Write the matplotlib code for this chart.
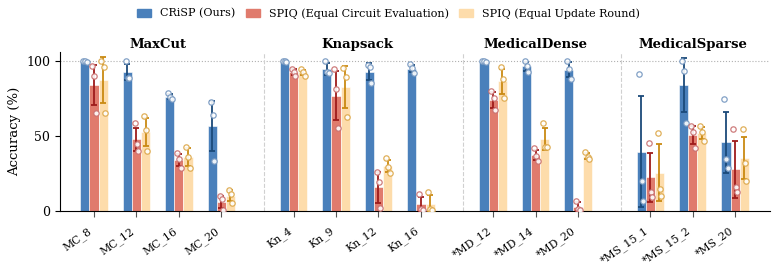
import matplotlib
matplotlib.use("Agg")
import matplotlib.pyplot as plt
import numpy as np
from matplotlib.patches import Patch

# Benchmark instances, grouped by problem family
groups = ["MaxCut", "Knapsack", "MedicalDense", "MedicalSparse"]
instances = [
    ["MC_8", "MC_12", "MC_16", "MC_20"],
    ["Kn_4", "Kn_9", "Kn_12", "Kn_16"],
    ["*MD_12", "*MD_14", "*MD_20"],
    ["*MS_15_1", "*MS_15_2", "*MS_20"],
]

# Per-seed accuracies (%), three runs per instance
crisp_runs = [
    [100, 100, 99.5], [100, 89, 89], [78.5, 76, 74.5], [72.4, 64, 33.3],
    [100, 100, 99.5], [100, 92.4, 91.8], [97.3, 96.2, 85.1], [97.8, 95.1, 91.8],
    [100, 100, 99.5], [100, 96.7, 92.4], [100, 94.4, 88],
    [91.1, 20.2, 6.9], [100, 93.5, 58.5], [74.4, 34.7, 28.4],
]
spiq_circuit_runs = [
    [97, 90, 65.5], [58.4, 44.7, 40.2], [38.5, 35, 29], [10, 7.8, 0.7],
    [94.7, 92.9, 90], [94.4, 81.1, 55.1], [26.2, 19.6, 1.8], [11.3, 1.1, 0.7],
    [80, 75.1, 67.3], [42, 37, 33.5], [6.9, 1.1, 0.7],
    [45.1, 12.9, 9.1], [56.7, 52.7, 42.2], [54.4, 16.2, 12.9],
]
spiq_round_runs = [
    [100, 96.2, 65.6], [63.3, 54, 40.2], [43, 36, 29], [14, 11.5, 5.5],
    [94.7, 92.4, 90], [95.1, 89.1, 62.9], [35.5, 29.5, 25.5], [12.9, 1.1, 0.7],
    [96.2, 87.8, 75.6], [58.4, 42.9, 42.4], [39.5, 36, 35],
    [52.2, 14.7, 10], [56.7, 52.9, 46.7], [54.4, 31.8, 20.2],
]

methods = ["CRiSP (Ours)", "SPIQ (Equal Circuit Evaluation)", "SPIQ (Equal Update Round)"]
bar_colors = ["#4a80bb", "#e07b6d", "#fddcab"]
err_colors = ["#1b4a7a", "#9e1b1b", "#c98a12"]
point_colors = ["#7597c0", "#c96f6f", "#dca748"]


def main():
    plt.rcParams["font.family"] = ["DejaVu Serif"]

    # x positions: unit spacing inside a group, extra gap between groups
    xs, labels, centers, seps = [], [], [], []
    pos = 0.0
    for gi, names in enumerate(instances):
        start = pos
        for name in names:
            xs.append(pos)
            labels.append(name)
            pos += 1
        centers.append((start + pos - 1) / 2)
        if gi < len(instances) - 1:
            seps.append(pos)
        pos += 0.7
    xs = np.array(xs)

    fig = plt.figure(figsize=(7.77, 2.67), dpi=100)
    ax = fig.add_axes([0.0772, 0.2097, 0.9138, 0.5955])

    width = 0.215
    offsets = [-width, 0, width]
    jitter = np.array([-0.04, 0.01, 0.045])
    all_runs = [crisp_runs, spiq_circuit_runs, spiq_round_runs]
    for k, runs in enumerate(all_runs):
        arr = np.array(runs)
        mean = arr.mean(axis=1)
        std = arr.std(axis=1)
        bx = xs + offsets[k]
        ax.bar(bx, mean, width=width, color=bar_colors[k], edgecolor="white",
               linewidth=0.4, zorder=2)
        ax.errorbar(bx, mean, yerr=std, fmt="none", ecolor=err_colors[k],
                    elinewidth=1.3, capsize=2.5, capthick=1.3, zorder=3)
        for i in range(len(bx)):
            ax.scatter(bx[i] + jitter, arr[i], s=15, facecolor="white",
                       edgecolor=point_colors[k], linewidth=0.9, alpha=0.9,
                       zorder=4)

    ax.axhline(100, color="#b0b0b0", linestyle=":", linewidth=0.8, zorder=1)
    for s in seps:
        ax.axvline(s, color="#d0d0d0", linestyle="--", linewidth=0.8, zorder=1)

    for c, g in zip(centers, groups):
        ax.text(c, 111, g, ha="center", va="center", fontsize=9.5,
                fontweight="bold", clip_on=False)

    ax.set_xlim(xs[0] - 0.8, xs[-1] + 0.82)
    ax.set_ylim(0, 106)
    ax.set_yticks([0, 50, 100])
    ax.set_xticks(xs)
    ax.set_xticklabels(labels, rotation=35, ha="right", fontsize=7.8)
    ax.tick_params(axis="x", length=4.5, color="#555555", pad=6)
    ax.tick_params(axis="y", labelsize=9)
    ax.set_ylabel("Accuracy (%)", fontsize=9.5)
    ax.spines["top"].set_visible(False)
    ax.spines["right"].set_visible(False)

    handles = [Patch(color=c) for c in bar_colors]
    fig.legend(handles, methods, loc="center", bbox_to_anchor=(0.5, 0.95),
               ncol=3, frameon=False, fontsize=8, handlelength=1.3,
               columnspacing=0.9, handletextpad=0.8)

    fig.savefig("out.png", dpi=100)


if __name__ == "__main__":
    main()
